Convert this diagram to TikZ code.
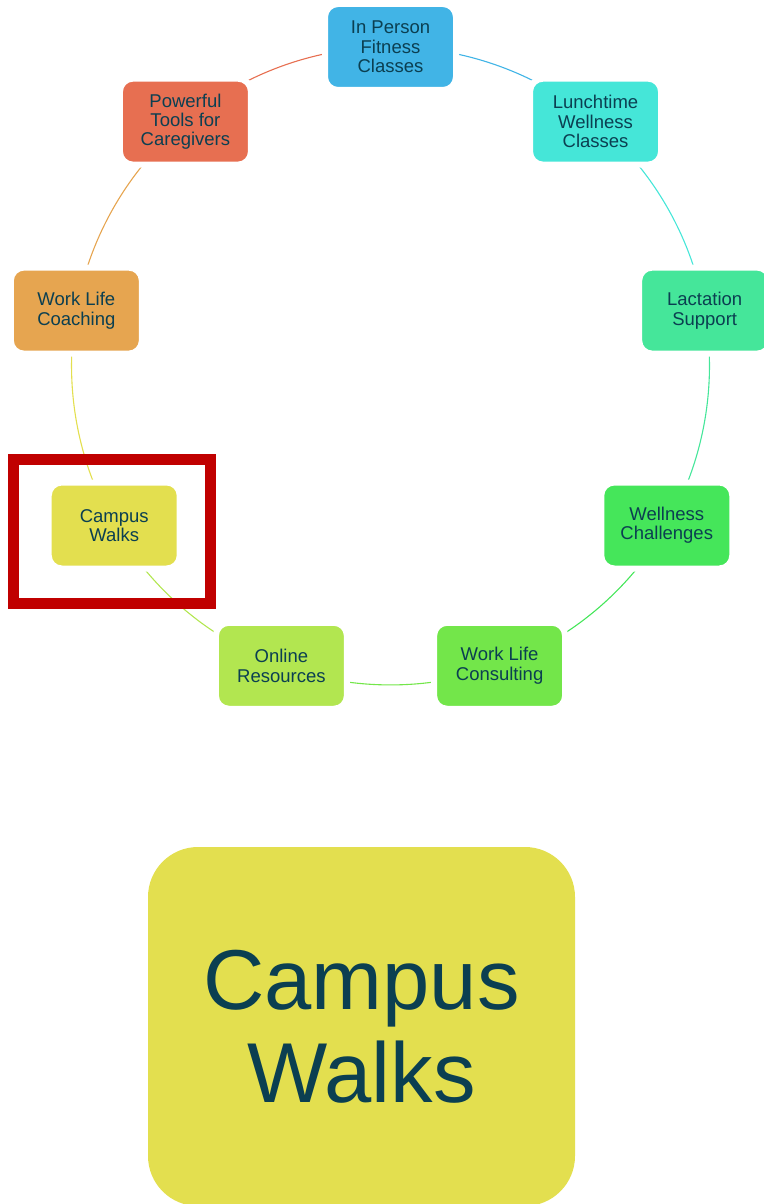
\documentclass[tikz,border=0pt]{standalone}
\usepackage{fontspec}
\setmainfont{Liberation Sans}
\usetikzlibrary{shapes}
\pgfdeclarelayer{background}
\pgfsetlayers{background,main}
\definecolor{txt}{HTML}{0B3F51}
\definecolor{cfit}{HTML}{41B4E6}
\definecolor{clunch}{HTML}{45E6D8}
\definecolor{clact}{HTML}{45E69A}
\definecolor{cchal}{HTML}{45E65A}
\definecolor{ccons}{HTML}{73E64A}
\definecolor{conl}{HTML}{B2E650}
\definecolor{cwalk}{HTML}{E3DF4F}
\definecolor{ccoach}{HTML}{E6A550}
\definecolor{ctools}{HTML}{E76F51}
\definecolor{hl}{HTML}{C00000}

\begin{document}
\begin{tikzpicture}[x=1pt,y=1pt,
	topic/.style={draw=white,line width=6pt,rounded corners=13pt,minimum width=131pt,minimum height=86pt,inner sep=0pt,align=center,text=txt,font=\fontsize{18.5}{19.4}\selectfont},
	link/.style={line width=1.1pt,bend left=20,looseness=0.878}]
	\useasboundingbox (0,0) rectangle (763,-1204);
	% ring of topics
	\begin{scope}[shift={(390.5,-366)}]
	\foreach \a/\n/\c/\t in {90/fit/cfit/{In Person\\Fitness\\Classes},
		50/lunch/clunch/{Lunchtime\\Wellness\\Classes},
		10/lact/clact/{Lactation\\Support},
		-30/chal/cchal/{Wellness\\Challenges},
		-70/cons/ccons/{Work Life\\Consulting},
		-110/onl/conl/{Online\\Resources},
		-150/walk/cwalk/{Campus\\Walks},
		170/coach/ccoach/{Work Life\\Coaching},
		130/tools/ctools/{Powerful\\Tools for\\Caregivers}}
		\node[topic,fill=\c] (\n) at (\a:319) {\t};
	\end{scope}
	\begin{pgfonlayer}{background}
	\foreach \a/\b/\c in {fit/lunch/cfit,lunch/lact/clunch,lact/chal/clact,chal/cons/cchal,
		cons/onl/ccons,onl/walk/conl,walk/coach/cwalk,coach/tools/ccoach,tools/fit/ctools}
		\draw[link,\c] (\a.center) to (\b.center);
	\end{pgfonlayer}
	\node[draw=hl,line width=11pt,minimum width=197pt,minimum height=144pt] (mark) at (111.5,-531) {};
	% selected topic
	\node[fill=cwalk,rounded corners=50pt,minimum width=427pt,minimum height=359pt,align=center,text=txt,font=\fontsize{85}{93}\selectfont] (big) at (361.5,-1026.5) {Campus\\Walks};
\end{tikzpicture}
\end{document}
